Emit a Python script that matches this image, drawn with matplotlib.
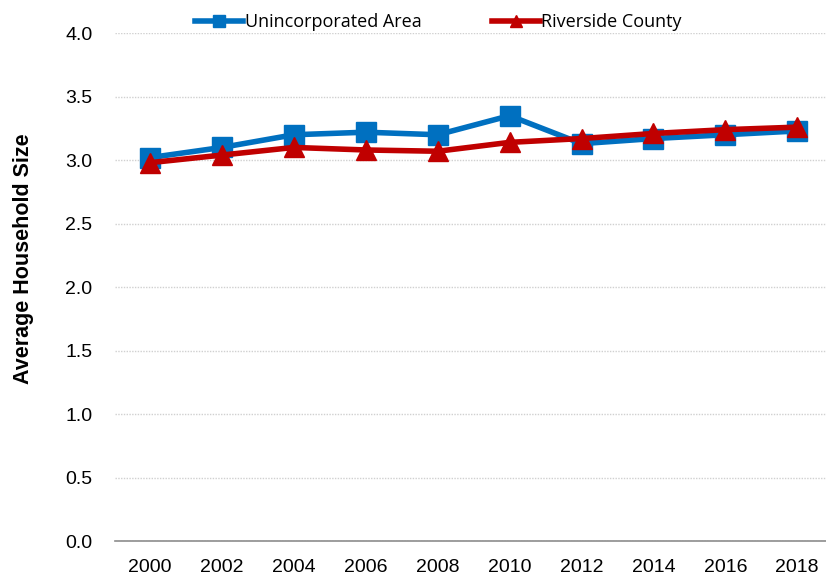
import matplotlib.pyplot as plt
import numpy as np

years = ['2000', '2002', '2004', '2006', '2008', '2010', '2012', '2014', '2016', '2018']
unincorporated = [3.02, 3.10, 3.20, 3.22, 3.20, 3.35, 3.13, 3.17, 3.20, 3.23]
riverside = [2.98, 3.04, 3.10, 3.08, 3.07, 3.14, 3.17, 3.21, 3.24, 3.26]
yticks = [0.0, 0.5, 1.0, 1.5, 2.0, 2.5, 3.0, 3.5, 4.0]

fig = plt.figure(figsize=(8.26, 5.82), dpi=100)
ax = fig.add_axes([0.139, 0.0704, 0.861, 0.8726])

x = np.arange(len(years))
ax.plot(x, unincorporated, color='#0070C0', linewidth=4, marker='s', markersize=14,
        label='Unincorporated Area', zorder=3)
ax.plot(x, riverside, color='#C00000', linewidth=4, marker='^', markersize=15,
        label='Riverside County', zorder=4)

ax.set_ylim(0, 4.0)
ax.set_xlim(-0.49, 9.40)
ax.set_yticks(yticks)
ax.set_yticklabels([f'{v:.1f}' for v in yticks], fontsize=14, family='Liberation Sans')
ax.set_xticks(x)
ax.set_xticklabels(years, fontsize=14, family='Liberation Sans')
ax.tick_params(length=0)
ax.tick_params(axis='x', pad=13)
ax.tick_params(axis='y', pad=16)
ax.grid(axis='y', color='#d0d0d0', linestyle=(0, (1, 1)), linewidth=1)
for s in ax.spines.values():
    s.set_visible(False)
ax.spines['bottom'].set_visible(True)
ax.spines['bottom'].set_color('#8c8c8c')
ax.spines['bottom'].set_linewidth(1.2)

ax.set_ylabel('Average Household Size', fontsize=15.5, fontweight='bold',
              family='Liberation Sans')
ax.yaxis.set_label_coords(-0.114, 0.555)

leg = ax.legend(loc='lower center', bbox_to_anchor=(0.455, 0.99), ncol=2, frameon=False,
                prop={'family': 'Open Sans', 'size': 13}, handlelength=2.65,
                markerscale=0.6, columnspacing=3.9, handletextpad=0.1, borderaxespad=0)

plt.savefig('out.png', dpi=100)
